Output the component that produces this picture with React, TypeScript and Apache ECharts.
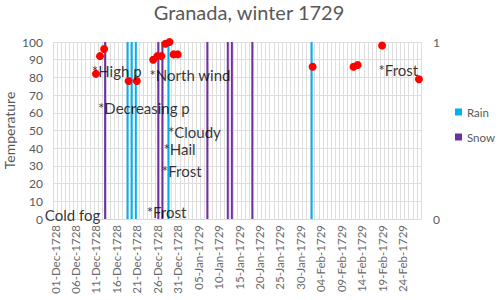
import React, { useEffect, useRef } from "react";
import * as echarts from "echarts";

// Category axis: every day from 01-Dec-1728 to 28-Feb-1729
const months = [
  { name: "Dec", year: 1728, days: 31 },
  { name: "Jan", year: 1729, days: 31 },
  { name: "Feb", year: 1729, days: 28 },
];
const categories: string[] = [];
months.forEach((m) => {
  for (let d = 1; d <= m.days; d++) {
    categories.push(`${String(d).padStart(2, "0")}-${m.name}-${m.year}`);
  }
});

// Temperature readings (red dots)
const tempDates = [
  "11-Dec-1728", "12-Dec-1728", "13-Dec-1728", "19-Dec-1728", "21-Dec-1728",
  "25-Dec-1728", "26-Dec-1728", "27-Dec-1728", "28-Dec-1728", "29-Dec-1728",
  "30-Dec-1728", "31-Dec-1728", "02-Feb-1729", "12-Feb-1729", "13-Feb-1729",
  "19-Feb-1729", "28-Feb-1729",
];
const tempValues = [82, 92, 96, 78, 78, 90, 92, 92, 99, 100, 93, 93, 86, 86, 87, 98, 79];

// Days with rain / snow (columns on the secondary axis, value 1)
const rainDates = ["19-Dec-1728", "20-Dec-1728", "21-Dec-1728", "29-Dec-1728", "02-Feb-1729"];
const snowDates = [
  "13-Dec-1728", "26-Dec-1728", "27-Dec-1728", "07-Jan-1729", "12-Jan-1729",
  "13-Jan-1729", "18-Jan-1729",
];

// Weather notes (day offset from start of axis, temperature level)
const noteTexts = [
  "*High p", "*Decreasing p", "*North wind", "*Cloudy", "*Hail", "*Frost",
  "*Frost", "Cold fog", "*Frost",
];
const noteDays = [9.5, 11.0, 23.6, 28.1, 27.0, 26.6, 22.9, -2.0, 79.6];
const noteTemps = [83.4, 62.7, 81.2, 49.2, 39.4, 27.1, 4.0, 2.1, 84.4];

const FONT = "Lato";
const GRAY = "#595959";

export default function App() {
  const ref = useRef<HTMLDivElement>(null);

  useEffect(() => {
    if (!ref.current) return;
    const chart = echarts.init(ref.current, undefined, { renderer: "svg" });

    const rainData = categories.map((c) => (rainDates.includes(c) ? 1 : null));
    const snowData = categories.map((c) => (snowDates.includes(c) ? 1 : null));
    const tempData = tempDates.map((d, i) => [d, tempValues[i]]);
    const noteData = noteTexts.map((t, i) => ({ value: [noteDays[i], noteTemps[i]], name: t }));

    chart.setOption({
      animation: false,
      textStyle: { fontFamily: FONT },
      title: {
        text: "Granada, winter 1729",
        left: 244,
        textAlign: "center",
        top: -3,
        textStyle: { fontFamily: FONT, fontSize: 20, fontWeight: "normal", color: GRAY },
      },
      legend: {
        orient: "vertical",
        left: 455,
        top: 105,
        padding: 0,
        itemWidth: 7,
        itemHeight: 7,
        itemGap: 11,
        itemTextGap: 4,
        icon: "rect",
        data: ["Rain", "Snow"],
        textStyle: { fontFamily: FONT, fontSize: 11.5, color: GRAY, lineHeight: 14 },
      },
      grid: { left: 53, right: 79, top: 42, bottom: 81, containLabel: false, outerBoundsMode: "none" },
      xAxis: [
        {
          type: "category",
          data: categories,
          boundaryGap: true,
          axisLine: { lineStyle: { color: "#d9d9d9" } },
          axisTick: { show: false },
          axisLabel: {
            interval: 4,
            rotate: 90,
            fontFamily: FONT,
            fontSize: 11.5,
            color: "#6a6a6a",
            margin: 6,
          },
          splitLine: { show: true, interval: 0, lineStyle: { color: "#dedede", width: 1 } },
        },
        {
          type: "value",
          min: 0,
          max: 90,
          show: false,
        },
      ],
      yAxis: [
        {
          type: "value",
          min: 0,
          max: 100,
          interval: 10,
          name: "Temperature",
          nameLocation: "middle",
          nameGap: 37,
          nameMoveOverlap: false,
          nameTextStyle: { fontFamily: FONT, fontSize: 14, color: GRAY },
          axisLine: { show: false },
          axisTick: { show: false },
          axisLabel: { fontFamily: FONT, fontSize: 12, color: GRAY, margin: 10 },
          splitLine: { lineStyle: { color: "#dedede" } },
        },
        {
          type: "value",
          min: 0,
          max: 1,
          interval: 1,
          position: "right",
          axisLine: { show: false },
          axisTick: { show: false },
          axisLabel: { fontFamily: FONT, fontSize: 12, color: GRAY, margin: 12 },
          splitLine: { show: false },
        },
      ],
      series: [
        {
          name: "Rain",
          type: "bar",
          xAxisIndex: 0,
          yAxisIndex: 1,
          data: rainData,
          barWidth: 2,
          barGap: "0%",
          itemStyle: { color: "#00b0f0" },
          z: 2,
        },
        {
          name: "Snow",
          type: "bar",
          xAxisIndex: 0,
          yAxisIndex: 1,
          data: snowData,
          barWidth: 2,
          barGap: "0%",
          itemStyle: { color: "#7030a0" },
          z: 2,
        },
        {
          name: "Temperature",
          type: "scatter",
          xAxisIndex: 0,
          yAxisIndex: 0,
          data: tempData,
          symbolSize: 8,
          itemStyle: { color: "#ff0000", opacity: 1 },
          z: 3,
        },
        {
          name: "Notes",
          type: "scatter",
          xAxisIndex: 1,
          yAxisIndex: 0,
          data: noteData,
          symbolSize: 1,
          clip: false,
          itemStyle: { color: "rgba(0,0,0,0)" },
          label: {
            show: true,
            position: "inside",
            align: "left",
            verticalAlign: "middle",
            formatter: (p: any) => p.name,
            fontFamily: FONT,
            fontSize: 15,
            color: "#000000",
          },
          z: 4,
        },
      ],
    });

    return () => chart.dispose();
  }, []);

  return (
    <div
      ref={ref}
      style={{ position: "fixed", left: 0, top: 0, width: 500, height: 300, background: "#ffffff" }}
    />
  );
}
